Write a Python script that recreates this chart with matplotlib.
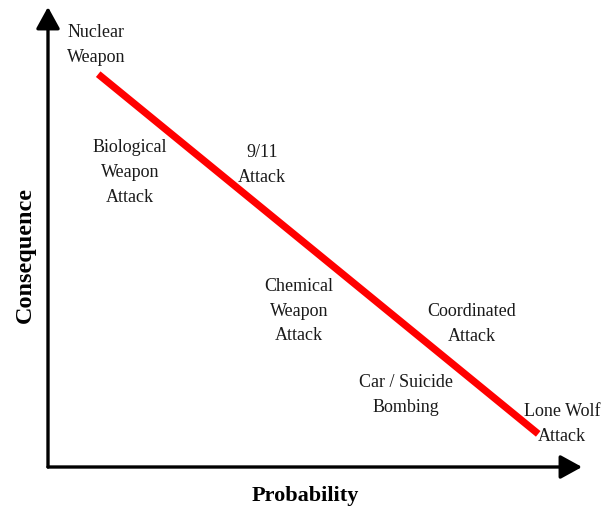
import matplotlib.pyplot as plt

# ── Data ──────────────────────────────────────────────────────────────────────
# risk line endpoints (probability, consequence), axes run 0..1
LINE_X = [0.094, 0.918]
LINE_Y = [0.854, 0.072]

LABELS = [
    "Nuclear\nWeapon",
    "Biological\nWeapon\nAttack",
    "9/11\nAttack",
    "Chemical\nWeapon\nAttack",
    "Coordinated\nAttack",
    "Car / Suicide\nBombing",
    "Lone Wolf\nAttack",
]
LABEL_X = [0.090, 0.154, 0.401, 0.470, 0.794, 0.670, 0.963]
LABEL_Y = [0.920, 0.643, 0.659, 0.341, 0.313, 0.159, 0.096]

X_LABEL = "Probability"
Y_LABEL = "Consequence"

SERIF = ["Liberation Serif", "DejaVu Serif"]

# ── Figure ────────────────────────────────────────────────────────────────────
fig = plt.figure(figsize=(6.05, 5.10), dpi=100)
fig.patch.set_facecolor("white")
ax = fig.add_axes([48 / 605, 42 / 510, 534 / 605, 460 / 510])
ax.set_xlim(0, 1)
ax.set_ylim(0, 1)
ax.axis("off")

# axis arrows
arrow = dict(arrowstyle="-|>,head_length=0.6,head_width=0.33", color="black",
             lw=2.4, mutation_scale=22, shrinkA=0, shrinkB=0)
ax.annotate("", xy=(1.0, 0.0), xytext=(0.0, 0.0), xycoords="axes fraction",
            arrowprops=arrow, annotation_clip=False)
ax.annotate("", xy=(0.0, 1.0), xytext=(0.0, 0.0), xycoords="axes fraction",
            arrowprops=arrow, annotation_clip=False)

# red risk line
ax.plot(LINE_X, LINE_Y, color="#ff0000", lw=5.2, solid_capstyle="butt")

for txt, x, y in zip(LABELS, LABEL_X, LABEL_Y):
    ax.text(x, y, txt, ha="center", va="center", fontsize=13,
            family=SERIF, color="#1a1a1a", linespacing=1.6)

fig.text(305 / 605, 1 - 496 / 510, X_LABEL, ha="center", va="center",
         fontsize=16, fontweight="bold", family=SERIF)
fig.text(25 / 605, 1 - 255 / 510, Y_LABEL, ha="center", va="center",
         rotation=90, fontsize=17.5, fontweight="bold", family=SERIF)

fig.savefig("out.png", dpi=100)
